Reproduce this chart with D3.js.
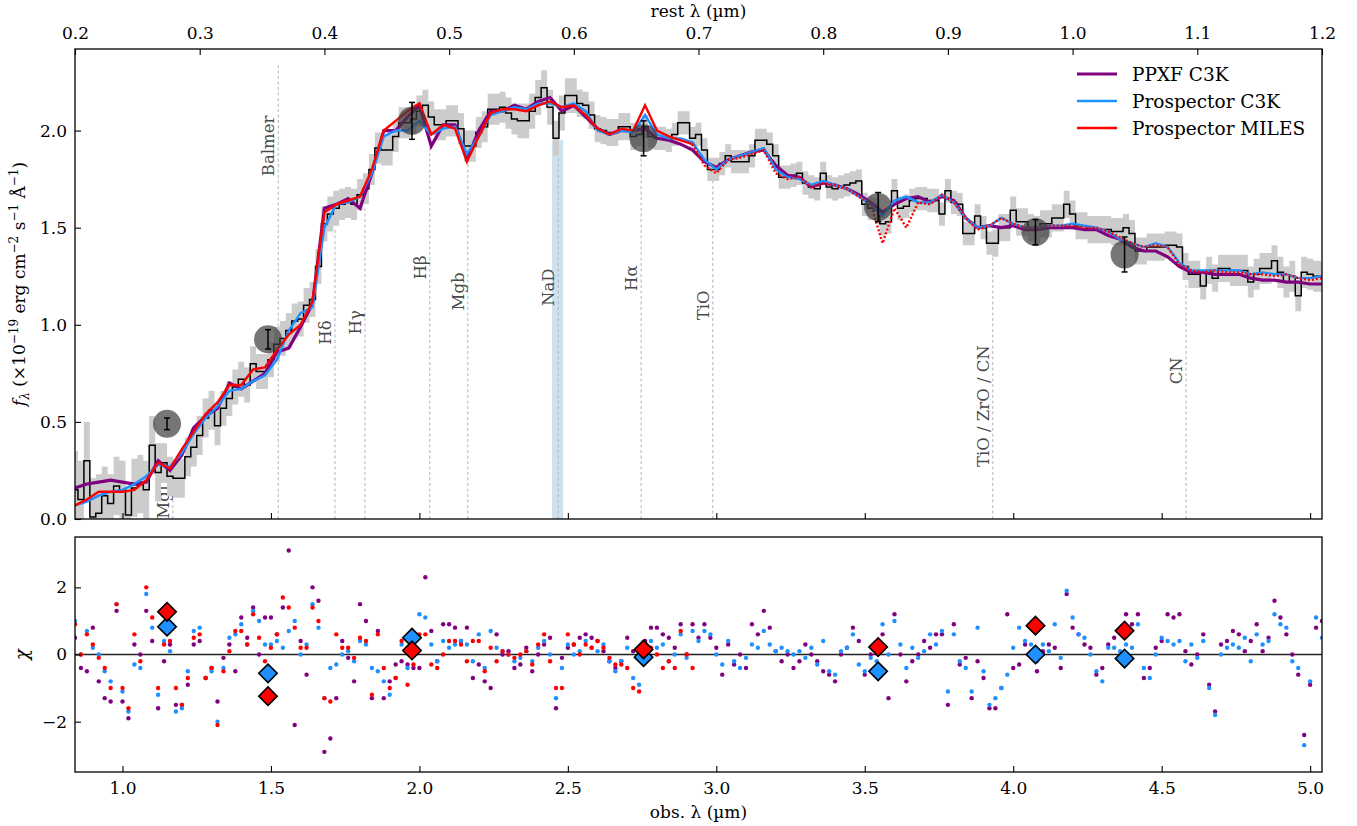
<!DOCTYPE html>
<html>
<head>
<meta charset="utf-8">
<script src="https://cdn.jsdelivr.net/npm/d3@7"></script>
<style>
  body { margin: 0; background: #fff; }
  svg { font-family: "DejaVu Serif", serif; }
</style>
</head>
<body>
<svg id="spec" width="1357" height="826"></svg>
<script>
// observed-frame grid (µm) of the prism spectrum and of the models
const obsStart = 0.84;
const obsEnd = 5.04;
const specStep = 0.02;
const modelStep = 0.04;
const redshift = 3.2;
const milesLimit = 2.92;

const fluxObs = [
  0.15, 0.10, 0.30, 0.01, 0.03, 0.12, 0.08, 0.17, 0.15, 0.02,
  0.16, 0.18, 0.15, 0.38, 0.24, 0.29, 0.22, 0.21, 0.21, 0.32,
  0.37, 0.43, 0.52, 0.56, 0.48, 0.57, 0.62, 0.68, 0.72, 0.69,
  0.80, 0.76, 0.76, 0.82, 0.90, 0.93, 0.97, 1.02, 1.03, 1.10,
  1.13, 1.30, 1.52, 1.57, 1.60, 1.62, 1.63, 1.62, 1.67, 1.70,
  1.80, 1.91, 1.90, 1.90, 1.97, 2.04, 2.04, 2.06, 2.10, 2.13,
  2.07, 2.03, 2.03, 2.05, 2.05, 2.01, 1.92, 1.92, 1.99, 2.02,
  2.11, 2.11, 2.12, 2.09, 2.06, 2.05, 2.05, 2.10, 2.17, 2.22,
  2.12, 1.96, 2.09, 2.18, 2.18, 2.14, 2.13, 2.08, 2.01, 2.00,
  1.99, 1.99, 2.02, 2.02, 1.97, 1.98, 2.02, 1.97, 1.96, 1.96,
  1.95, 1.98, 2.04, 2.04, 1.96, 1.98, 1.90, 1.80, 1.80, 1.83,
  1.87, 1.84, 1.84, 1.84, 1.87, 1.95, 1.95, 1.93, 1.87, 1.76,
  1.76, 1.77, 1.78, 1.73, 1.71, 1.70, 1.78, 1.71, 1.70, 1.71,
  1.72, 1.73, 1.74, 1.62, 1.60, 1.59, 1.52, 1.53, 1.69, 1.60,
  1.61, 1.64, 1.65, 1.65, 1.64, 1.64, 1.57, 1.69, 1.63, 1.62,
  1.47, 1.47, 1.56, 1.50, 1.42, 1.42, 1.50, 1.50, 1.59, 1.53,
  1.53, 1.50, 1.49, 1.52, 1.52, 1.55, 1.55, 1.62, 1.57, 1.51,
  1.51, 1.49, 1.49, 1.49, 1.49, 1.48, 1.48, 1.50, 1.47, 1.38,
  1.38, 1.40, 1.40, 1.40, 1.41, 1.41, 1.40, 1.30, 1.26, 1.26,
  1.20, 1.28, 1.24, 1.29, 1.29, 1.28, 1.28, 1.28, 1.22, 1.26,
  1.29, 1.29, 1.33, 1.27, 1.22, 1.25, 1.15, 1.27, 1.26, 1.25, 1.25
];

// 1-sigma uncertainty, one value per 0.2 µm
const errKnots = [0.20, 0.15, 0.10, 0.09, 0.09, 0.08, 0.08, 0.08, 0.09, 0.07, 0.06,
                  0.06, 0.06, 0.06, 0.06, 0.06, 0.07, 0.07, 0.07, 0.07, 0.08, 0.08];

const modelPPXF = [
  0.16, 0.18, 0.19, 0.20, 0.19, 0.18, 0.19, 0.30, 0.25, 0.33,
  0.47, 0.53, 0.57, 0.70, 0.67, 0.71, 0.75, 0.86, 0.88, 0.99,
  1.11, 1.60, 1.62, 1.65, 1.60, 1.78, 2.00, 2.00, 2.07, 2.13,
  1.92, 2.03, 2.03, 1.85, 2.00, 2.10, 2.10, 2.13, 2.11, 2.15,
  2.17, 2.10, 2.13, 2.07, 2.01, 1.98, 2.00, 2.00, 2.01, 1.96,
  1.95, 1.93, 1.90, 1.84, 1.81, 1.85, 1.87, 1.89, 1.90, 1.82,
  1.77, 1.76, 1.71, 1.73, 1.72, 1.70, 1.67, 1.63, 1.58, 1.62,
  1.65, 1.66, 1.63, 1.66, 1.64, 1.55, 1.50, 1.51, 1.50, 1.51,
  1.49, 1.49, 1.50, 1.50, 1.50, 1.49, 1.49, 1.46, 1.44, 1.40,
  1.38, 1.38, 1.35, 1.30, 1.27, 1.27, 1.26, 1.26, 1.26, 1.24,
  1.23, 1.23, 1.22, 1.22, 1.21, 1.21
];

const modelC3K = [
  0.07, 0.09, 0.12, 0.14, 0.15, 0.18, 0.22, 0.28, 0.27, 0.34,
  0.44, 0.52, 0.58, 0.66, 0.67, 0.71, 0.74, 0.82, 0.97, 1.06,
  1.09, 1.50, 1.62, 1.63, 1.66, 1.78, 1.97, 2.00, 2.00, 2.05,
  1.98, 2.01, 2.02, 1.88, 1.97, 2.08, 2.10, 2.12, 2.11, 2.14,
  2.14, 2.12, 2.14, 2.10, 2.00, 1.98, 2.00, 1.99, 2.08, 1.98,
  1.96, 1.96, 1.94, 1.85, 1.80, 1.85, 1.87, 1.89, 1.91, 1.80,
  1.76, 1.75, 1.72, 1.74, 1.72, 1.70, 1.66, 1.62, 1.56, 1.64,
  1.66, 1.63, 1.63, 1.67, 1.63, 1.55, 1.50, 1.51, 1.55, 1.52,
  1.50, 1.50, 1.51, 1.51, 1.52, 1.51, 1.50, 1.48, 1.44, 1.42,
  1.40, 1.42, 1.40, 1.32, 1.28, 1.28, 1.28, 1.28, 1.28, 1.26,
  1.27, 1.26, 1.26, 1.24, 1.24, 1.25
];

const modelMILES = [
  0.07, 0.10, 0.14, 0.14, 0.14, 0.15, 0.20, 0.29, 0.26, 0.36,
  0.45, 0.54, 0.60, 0.69, 0.69, 0.77, 0.78, 0.87, 0.95, 1.00,
  1.12, 1.58, 1.62, 1.64, 1.66, 1.80, 2.00, 2.05, 2.10, 2.14,
  1.98, 2.03, 2.01, 1.84, 1.97, 2.09, 2.11, 2.11, 2.10, 2.13,
  2.15, 2.12, 2.13, 2.08, 2.01, 1.98, 2.01, 2.00, 2.13, 2.00,
  1.97, 1.95, 1.93, 1.82, 1.78, 1.85, 1.86, 1.88, 1.90, 1.78,
  1.75, 1.76, 1.71, 1.73, 1.72, 1.70, 1.66, 1.62, 1.42, 1.60,
  1.50, 1.63, 1.62, 1.67, 1.63, 1.55, 1.49, 1.51, 1.55, 1.52,
  1.50, 1.50, 1.51, 1.51, 1.51, 1.50, 1.50, 1.48, 1.45, 1.42,
  1.40, 1.41, 1.40, 1.31, 1.28, 1.27, 1.28, 1.27, 1.27, 1.26,
  1.26, 1.25, 1.26, 1.24, 1.23, 1.24
];

// chi per spectral pixel (same grid as fluxObs)
const chiPPXF = [
  0.5, -0.4, -0.5, 0.8, -0.8, -1.3, -1.4, 1.3, -1.4, -1.9,
  0.3, 0.0, 1.3, 0.4, -1.6, -0.2, 0.3, -1.5, -1.5, -0.9,
  0.3, 0.4, -0.7, -0.4, -1.4, -0.1, 0.3, -0.5, 1.1, 0.5,
  1.4, 0.0, 1.1, 1.1, 0.6, 1.4, 3.1, -2.1, 0.4, -0.6,
  2.0, 1.6, -2.9, -2.5, -1.3, 0.4, -0.1, -0.8, 1.5, 1.0,
  -1.3, 0.7, -1.3, -0.8, -0.3, -0.2, -0.3, -0.4, -0.4, 2.3,
  0.7, -0.2, 0.9, 0.9, 0.8, 0.4, 0.8, -0.7, -0.3, -0.8,
  -1.0, 0.6, 0.0, 0.1, -0.4, -0.3, 0.2, -0.5, 0.0, 0.3,
  0.5, -1.6, -0.1, 0.2, 0.3, 0.5, 0.6, 0.5, 0.4, 0.1,
  -0.2, -0.4, -0.2, 0.5, 0.1, 0.2, 0.4, 0.8, 0.8, 0.6,
  0.5, 0.2, 0.9, 0.0, 0.9, 0.5, 0.9, 0.5, 0.2, -0.6,
  0.3, -0.3, 0.0, -0.4, 0.9, 0.6, 1.3, 0.8, 0.1, -0.2,
  0.0, -0.4, -0.2, 0.3, 0.0, -0.2, -0.5, -0.6, -0.8, 0.0,
  0.2, 0.8, 0.4, -0.6, 0.0, 0.2, 0.6, -1.3, 1.2, 0.0,
  -0.8, -0.2, 0.0, 0.4, 0.2, 0.6, 0.6, -1.5, 0.9, -0.3,
  -0.1, -1.3, -0.2, -0.7, -1.6, -1.6, -1.0, 1.2, -0.4, -0.3,
  0.3, 0.0, -0.5, 0.1, 0.3, 0.2, -0.4, 1.8, 0.8, 0.6,
  0.3, 0.2, -0.6, -0.4, 0.3, 0.5, 0.7, 1.2, 0.9, 1.2,
  -0.7, -0.4, 0.2, 0.4, 1.2, 1.1, 1.2, 0.1, -0.3, 0.0,
  0.6, -0.9, -1.7, 0.3, 0.4, 0.7, 0.6, 0.1, 0.4, 0.9,
  0.1, 0.5, 1.6, 1.1, 0.6, 0.0, -0.6, -2.4, -0.9, 0.8, 1.0
];

const chiC3K = [
  1.0, 0.0, 0.7, 0.2, 0.0, -0.5, -0.8, 1.5, -1.1, -1.7,
  -0.3, -0.4, 1.8, 0.8, -1.2, 0.4, 0.1, -1.7, -1.6, -0.5,
  0.7, 0.8, -0.7, -0.5, -2.0, -0.4, 0.5, 0.6, 0.9, 0.3,
  1.3, 1.0, 0.3, 0.3, 0.4, 0.2, 0.7, 1.0, 0.0, 0.3,
  1.5, 0.8, -1.3, -0.4, -0.3, 0.0, 0.1, -0.2, 0.4, 0.3,
  -0.4, -0.5, -0.8, -1.2, -0.7, 0.3, -0.4, 0.5, 1.2, 1.1,
  0.3, -0.2, 0.4, 0.2, 0.3, 0.4, 0.3, -0.2, 0.6, -0.4,
  0.7, 0.2, 0.1, 0.0, -0.2, -0.1, 0.1, -0.2, 0.2, 0.4,
  0.0, -1.3, -0.4, 0.3, 0.0, 0.1, 0.4, 0.2, 0.1, 0.3,
  -0.2, -0.5, -0.2, 0.2, -0.7, -0.9, 0.1, 0.4, 0.2, 0.3,
  -0.2, 0.0, 0.6, -0.1, 0.7, 0.4, 0.7, 0.6, 0.0, -0.3,
  0.4, -0.2, -0.4, -0.1, 0.3, 0.2, 0.7, 0.3, 0.1, 0.2,
  0.1, 0.0, 0.1, -0.1, 0.2, -0.3, 0.4, -0.5, -0.6, 0.1,
  0.2, 0.6, -0.3, -0.5, -0.1, -0.2, 0.9, 0.0, 1.0, 0.3,
  -0.4, 0.2, -0.1, 0.1, 0.6, 0.3, 0.7, -1.1, 0.6, -0.2,
  -0.4, -1.1, 0.8, -0.5, -1.5, -1.3, -1.0, -0.6, 0.2, 0.8,
  0.4, 0.3, -0.2, 0.3, 0.1, 0.9, -0.1, 1.9, 1.1, 0.6,
  0.5, 0.0, -0.5, -0.8, 0.2, 0.2, 0.1, 0.3, 0.2, 0.9,
  -0.4, -0.7, 0.0, 0.5, 0.4, 0.3, 0.4, -0.2, 0.3, -0.1,
  0.4, -1.0, -1.8, 0.0, 0.2, 0.3, 0.2, 0.5, -0.2, 0.6,
  0.3, 0.4, 1.2, 0.9, 0.8, -0.2, -0.4, -2.7, -0.8, 1.1, 0.5
];

const chiMILES = [
  0.9, 0.0, 0.6, 0.3, -0.1, -0.4, -1.0, 1.5, -1.0, -1.6,
  0.6, -0.2, 2.0, 1.1, -1.0, 0.3, 0.4, -1.0, -1.5, -0.7,
  0.5, 0.6, -0.7, -0.4, -2.1, -0.5, 0.1, 0.7, 0.7, 0.3,
  1.2, 0.5, -0.2, 0.2, 0.6, 1.7, 1.4, 0.8, 0.2, 0.2,
  1.4, 1.0, -1.3, -1.4, 0.6, 0.2, 0.2, -0.1, 0.5, 0.4,
  -1.2, 0.6, -0.4, -1.0, -0.7, 0.4, -0.9, -0.3, 0.6, 0.6,
  -0.3, -0.4, 0.0, 0.4, 0.4, 0.3, -0.2, 0.4, 0.4, -0.5,
  0.2, -0.2, 0.1, 0.0, -0.1, 0.0, 0.1, -0.3, 0.3, 0.6,
  -0.2, -1.0, -1.0, 0.6, 0.3, 0.0, 0.3, 0.2, 0.4, 0.2,
  -0.1, -0.3, -0.3, -0.4, -1.0, -1.1, -0.1, 0.2, 0.0, -0.4,
  -0.2, -0.4, 0.7, 0.0, -0.4
];

// NIRCam photometry
const photWave = [1.15, 1.49, 1.975, 2.755, 3.545, 4.075, 4.375];
const photFlux = [0.49, 0.925, 2.05, 1.96, 1.606, 1.477, 1.362];
const photErr = [0.03, 0.05, 0.095, 0.09, 0.075, 0.065, 0.09];
const photChiC3K = [0.83, -0.56, 0.50, -0.08, -0.50, 0.00, -0.12];
const photChiMILES = [1.27, -1.24, 0.12, 0.15, 0.22, 0.86, 0.71];

// spectral features (rest frame, µm)
const featNames = ["MgII", "Balmer", "Hδ", "Hγ", "Hβ", "Mgb", "NaD", "Hα", "TiO", "TiO / ZrO / CN", "CN"];
const featRest = [0.2785, 0.363, 0.4085, 0.4325, 0.4845, 0.515, 0.5875, 0.654, 0.7115, 0.936, 1.091];
const featTop = [0.22, 2.35, 1.50, 1.60, 1.95, 1.85, 1.95, 1.90, 1.80, 1.42, 1.22];
const featLabelAt = [0.21, 2.077, 1.023, 1.075, 1.357, 1.27, 1.29, 1.306, 1.177, 0.895, 0.833];
const nadBand = [0.5825, 0.5915];

const restTicks = [0.2, 0.3, 0.4, 0.5, 0.6, 0.7, 0.8, 0.9, 1.0, 1.1, 1.2];
const obsTicks = [1.0, 1.5, 2.0, 2.5, 3.0, 3.5, 4.0, 4.5, 5.0];
const fluxTicks = [0.0, 0.5, 1.0, 1.5, 2.0];
const chiTicks = [-2, 0, 2];

const legendNames = ["PPXF C3K", "Prospector C3K", "Prospector MILES"];
const colPPXF = "#800080", colC3K = "#1e90ff", colMILES = "#ff0000";

const svg = d3.select('#spec');
const left = 75, right = 1322;
const topY0 = 49, topY1 = 519, botY0 = 537, botY1 = 772;

const x = d3.scaleLinear().domain([obsStart, obsEnd]).range([left, right]);
const xRest = d3.scaleLinear().domain([obsStart / (1 + redshift), obsEnd / (1 + redshift)]).range([left, right]);
const yTop = d3.scaleLinear().domain([0, 2.42]).range([topY1, topY0]);
const yBot = d3.scaleLinear().domain([-3.5, 3.5]).range([botY1, botY0]);

const spec = fluxObs.map((f, i) => ({
    w: obsStart + i * specStep,
    f,
    e: errKnots[Math.round(i / 10)]
}));
const asModel = arr => arr.map((f, j) => ({w: obsStart + j * modelStep, f}));

const defs = svg.append('defs');
defs.append('clipPath').attr('id', 'clipTop')
    .append('rect').attr('x', left).attr('y', topY0).attr('width', right - left).attr('height', topY1 - topY0);
defs.append('clipPath').attr('id', 'clipBot')
    .append('rect').attr('x', left).attr('y', botY0).attr('width', right - left).attr('height', botY1 - botY0);

// ---- top panel
const gTop = svg.append('g').attr('clip-path', 'url(#clipTop)');

gTop.append('rect')
    .attr('x', xRest(nadBand[0]))
    .attr('width', xRest(nadBand[1]) - xRest(nadBand[0]))
    .attr('y', yTop(1.95))
    .attr('height', yTop(0) - yTop(1.95))
    .attr('fill', '#1f77b4').attr('fill-opacity', 0.22);

const feats = featNames.map((name, i) => ({name, w: featRest[i], top: featTop[i], lab: featLabelAt[i]}));

gTop.selectAll('line.feat')
    .data(feats)
    .enter().append('line')
        .attr('class', 'feat')
        .attr('x1', d => xRest(d.w)).attr('x2', d => xRest(d.w))
        .attr('y1', yTop(0)).attr('y2', d => yTop(d.top))
        .attr('stroke', '#b4b4b4').attr('stroke-width', 1)
        .attr('stroke-dasharray', '3,2.5');

gTop.selectAll('text.feat')
    .data(feats)
    .enter().append('text')
        .attr('class', 'feat')
        .attr('transform', d => `translate(${xRest(d.w) - 4},${yTop(d.lab)}) rotate(-90)`)
        .attr('text-anchor', 'end')
        .attr('font-size', 16.5)
        .attr('fill', '#4a4a4a')
        .text(d => d.name);

gTop.append('path')
    .datum(spec)
    .attr('d', d3.area()
        .x(d => x(d.w))
        .y0(d => yTop(d.f - d.e))
        .y1(d => yTop(d.f + d.e))
        .curve(d3.curveStep))
    .attr('fill', '#cccccc');

gTop.append('path')
    .datum(spec)
    .attr('d', d3.line().x(d => x(d.w)).y(d => yTop(d.f)).curve(d3.curveStep))
    .attr('fill', 'none').attr('stroke', '#000').attr('stroke-width', 1.5);

const modelLine = d3.line().x(d => x(d.w)).y(d => yTop(d.f));

gTop.append('path').datum(asModel(modelPPXF))
    .attr('d', modelLine)
    .attr('fill', 'none').attr('stroke', colPPXF).attr('stroke-width', 3.2);

gTop.append('path').datum(asModel(modelC3K))
    .attr('d', modelLine)
    .attr('fill', 'none').attr('stroke', colC3K).attr('stroke-width', 2.4);

const miles = asModel(modelMILES);
gTop.append('path').datum(miles.filter(d => d.w <= milesLimit + 1e-9))
    .attr('d', modelLine)
    .attr('fill', 'none').attr('stroke', colMILES).attr('stroke-width', 2.4);
gTop.append('path').datum(miles.filter(d => d.w >= milesLimit - 1e-9))
    .attr('d', modelLine)
    .attr('fill', 'none').attr('stroke', colMILES).attr('stroke-width', 2.4)
    .attr('stroke-dasharray', '2,2');

const phot = photWave.map((w, i) => ({w, f: photFlux[i], e: photErr[i], c3k: photChiC3K[i], miles: photChiMILES[i]}));

gTop.selectAll('circle.phot')
    .data(phot)
    .enter().append('circle')
        .attr('class', 'phot')
        .attr('cx', d => x(d.w)).attr('cy', d => yTop(d.f))
        .attr('r', 14)
        .attr('fill', '#3c3c3c').attr('fill-opacity', 0.7);

const bars = gTop.selectAll('g.bar')
    .data(phot)
    .enter().append('g').attr('class', 'bar')
        .attr('stroke', '#000').attr('stroke-width', 1.5);
bars.append('line')
    .attr('x1', d => x(d.w)).attr('x2', d => x(d.w))
    .attr('y1', d => yTop(d.f - d.e)).attr('y2', d => yTop(d.f + d.e));
bars.append('line')
    .attr('x1', d => x(d.w) - 3).attr('x2', d => x(d.w) + 3)
    .attr('y1', d => yTop(d.f - d.e)).attr('y2', d => yTop(d.f - d.e));
bars.append('line')
    .attr('x1', d => x(d.w) - 3).attr('x2', d => x(d.w) + 3)
    .attr('y1', d => yTop(d.f + d.e)).attr('y2', d => yTop(d.f + d.e));

// legend
const legend = svg.append('g').attr('transform', 'translate(1077,74)');
const legendCols = [colPPXF, colC3K, colMILES];
const legendWidths = [3.2, 2.4, 2.4];
legendNames.forEach((name, i) => {
    const row = legend.append('g').attr('transform', `translate(0,${i * 27})`);
    row.append('line').attr('x1', 0).attr('x2', 40)
        .attr('stroke', legendCols[i]).attr('stroke-width', legendWidths[i]);
    row.append('text').attr('x', 55).attr('dy', '0.36em')
        .attr('font-size', 18.5).text(name);
});

// ---- bottom panel
const gBot = svg.append('g').attr('clip-path', 'url(#clipBot)');

gBot.append('line')
    .attr('x1', left).attr('x2', right)
    .attr('y1', yBot(0)).attr('y2', yBot(0))
    .attr('stroke', '#222').attr('stroke-width', 1.4);

const drawChi = (arr, color) => {
    gBot.append('g').selectAll('circle')
        .data(arr.map((c, i) => ({w: obsStart + i * specStep, c})))
        .enter().append('circle')
            .attr('cx', d => x(d.w)).attr('cy', d => yBot(d.c))
            .attr('r', 2.2)
            .attr('fill', color);
};
drawChi(chiPPXF, colPPXF);
drawChi(chiC3K, colC3K);
drawChi(chiMILES, colMILES);

const diamond = d3.symbol(d3.symbolSquare, 170);
const drawDiamonds = (key, color) => {
    gBot.append('g').selectAll('path')
        .data(phot)
        .enter().append('path')
            .attr('d', diamond)
            .attr('transform', d => `translate(${x(d.w)},${yBot(d[key])}) rotate(45)`)
            .attr('fill', color)
            .attr('stroke', '#000').attr('stroke-width', 1.6);
};
drawDiamonds('c3k', colC3K);
drawDiamonds('miles', colMILES);

// ---- axes
const styleAxis = g => {
    g.select('.domain').remove();
    g.selectAll('.tick line').attr('stroke', '#000').attr('stroke-width', 1.1);
    g.selectAll('.tick text').attr('font-size', 17).attr('font-family', '"DejaVu Serif", serif').attr('fill', '#000');
};

svg.append('g').attr('transform', `translate(0,${topY0})`)
    .call(d3.axisTop(xRest).tickValues(restTicks).tickSizeInner(-6).tickSizeOuter(0)
        .tickPadding(10).tickFormat(d3.format('.1f')))
    .call(styleAxis);

svg.append('g').attr('transform', `translate(0,${topY1})`)
    .call(d3.axisBottom(x).tickValues(obsTicks).tickSizeInner(-6).tickSizeOuter(0).tickFormat(''))
    .call(styleAxis);

svg.append('g').attr('transform', `translate(${left},0)`)
    .call(d3.axisLeft(yTop).tickValues(fluxTicks).tickSizeInner(-6).tickSizeOuter(0)
        .tickPadding(8).tickFormat(d3.format('.1f')))
    .call(styleAxis);

svg.append('g').attr('transform', `translate(0,${botY1})`)
    .call(d3.axisBottom(x).tickValues(obsTicks).tickSizeInner(-6).tickSizeOuter(0)
        .tickPadding(10).tickFormat(d3.format('.1f')))
    .call(styleAxis);

svg.append('g').attr('transform', `translate(${left},0)`)
    .call(d3.axisLeft(yBot).tickValues(chiTicks).tickSizeInner(-6).tickSizeOuter(0)
        .tickPadding(8).tickFormat(d3.format('d')))
    .call(styleAxis);

[[topY0, topY1], [botY0, botY1]].forEach(([a, b]) => {
    svg.append('rect')
        .attr('x', left).attr('y', a)
        .attr('width', right - left).attr('height', b - a)
        .attr('fill', 'none').attr('stroke', '#000').attr('stroke-width', 1.3);
});

// axis titles
svg.append('text')
    .attr('x', (left + right) / 2).attr('y', 17)
    .attr('text-anchor', 'middle').attr('font-size', 17)
    .text('rest λ (µm)');

svg.append('text')
    .attr('x', (left + right) / 2).attr('y', 818)
    .attr('text-anchor', 'middle').attr('font-size', 17)
    .text('obs. λ (µm)');

const yLabel = svg.append('text')
    .attr('transform', `translate(25,${(topY0 + topY1) / 2}) rotate(-90)`)
    .attr('text-anchor', 'middle').attr('font-size', 17);
yLabel.append('tspan').attr('font-style', 'italic').text('f');
yLabel.append('tspan').attr('font-style', 'italic').attr('font-size', 12).attr('dy', 4).text('λ');
yLabel.append('tspan').attr('dy', -4).text(' (×10');
yLabel.append('tspan').attr('font-size', 12).attr('dy', -7).text('−19');
yLabel.append('tspan').attr('dy', 7).text(' erg cm');
yLabel.append('tspan').attr('font-size', 12).attr('dy', -7).text('−2');
yLabel.append('tspan').attr('dy', 7).text(' s');
yLabel.append('tspan').attr('font-size', 12).attr('dy', -7).text('−1');
yLabel.append('tspan').attr('dy', 7).text(' Å');
yLabel.append('tspan').attr('font-size', 12).attr('dy', -7).text('−1');
yLabel.append('tspan').attr('dy', 7).text(')');

svg.append('text')
    .attr('transform', `translate(28,${yBot(0)}) rotate(-90)`)
    .attr('text-anchor', 'middle').attr('font-size', 18).attr('font-style', 'italic')
    .text('χ');
</script>
</body>
</html>
